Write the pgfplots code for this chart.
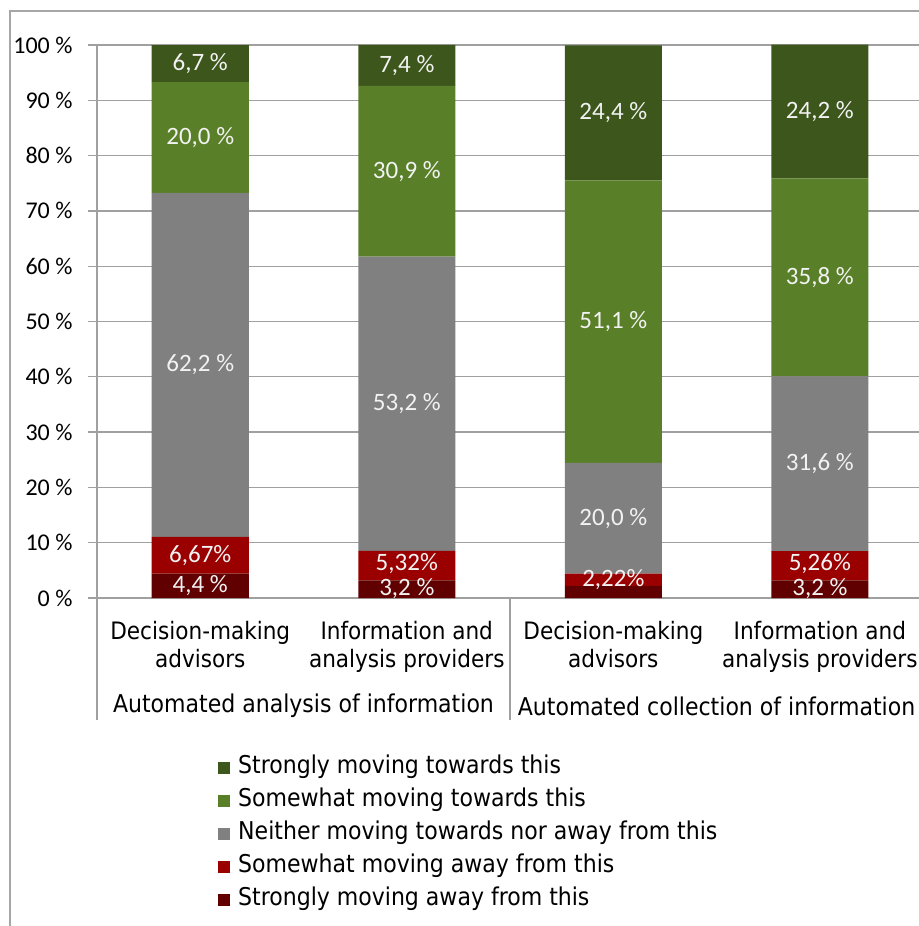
\documentclass[border=0pt]{standalone}
\usepackage{pgfplots}
\pgfplotsset{compat=1.18}
\usepackage{fontspec}
\newfontfamily\labelfont{DejaVu Sans Condensed}
\newfontfamily\numfont{Carlito}

\definecolor{strongTo}{HTML}{3D561B}
\definecolor{someTo}{HTML}{598028}
\definecolor{neither}{HTML}{808080}
\definecolor{someAway}{HTML}{9B0000}
\definecolor{strongAway}{HTML}{600000}
\definecolor{gridcol}{HTML}{A0A0A0}
\definecolor{framecol}{HTML}{A6A6A6}

% raise a value label by a given amount (kept unexpanded inside point meta)
\protected\def\up#1#2{\raisebox{#1}{#2}}

\begin{document}
\begin{tikzpicture}[x=1bp,y=1bp]
\useasboundingbox (-97,-328) rectangle (822,598);
% chart frame
\draw[framecol, line width=1.5bp] (-87,-340) -- (-87,587) -- (840,587);
\begin{axis}[
  at={(0,0)}, anchor=south west,
  scale only axis, width=822bp, height=553bp,
  xmin=0, xmax=3.98, ymin=0, ymax=100,
  clip=false,
  ybar stacked, bar width=0.47,
  axis lines*=left,
  axis line style={-, gridcol, line width=1.3bp},
  ymajorgrids, grid style={gridcol, line width=1.3bp},
  ytick={0,10,...,100},
  yticklabels={0 \%,10 \%,20 \%,30 \%,40 \%,50 \%,60 \%,70 \%,80 \%,90 \%,100 \%},
  ytick style={gridcol, line width=1.3bp},
  major tick length=9bp, tick align=outside,
  yticklabel style={font=\numfont\fontsize{24bp}{29bp}\selectfont, text=black, xshift=-12bp},
  xtick={0.5,1.5,2.5,3.5},
  xtick style={draw=none},
  xticklabels={Decision-making\\advisors, Information and\\analysis providers,
               Decision-making\\advisors, Information and\\analysis providers},
  xticklabel style={align=center, font=\labelfont\fontsize{24bp}{28bp}\selectfont,
     text=black, yshift=-11bp},
  point meta=explicit symbolic,
  nodes near coords,
  every node near coord/.append style={anchor=center,
     font=\numfont\fontsize{25bp}{30bp}\selectfont, text=white!95!black},
  reverse legend,
  legend cell align=left,
  legend style={at={(0.1472,-0.288)}, anchor=north west, draw=none, fill=none,
     inner sep=0pt, row sep=12bp,
     font=\labelfont\fontsize{24.5bp}{28bp}\selectfont,
     nodes={inner sep=0pt, text height=16bp, text depth=5bp},
     /tikz/every odd column/.append style={column sep=8bp}},
  legend image code/.code={\fill[#1] (0bp,-6bp) rectangle (12bp,6bp);},
]
\addplot[fill=strongAway, draw=none] coordinates {
  (0.5,4.4) [\up{-2bp}{4,4 \%}] (1.5,3.2) [\up{5bp}{3,2 \%}]
  (2.5,2.2) [] (3.5,3.2) [\up{4bp}{3,2 \%}]};
\addlegendentry{Strongly moving away from this}
\addplot[fill=someAway, draw=none] coordinates {
  (0.5,6.67) [\up{3bp}{6,67\%}] (1.5,5.32) [\up{7bp}{5,32\%}]
  (2.5,2.22) [\up{-3bp}{2,22\%}] (3.5,5.26) [\up{7bp}{5,26\%}]};
\addlegendentry{Somewhat moving away from this}
\addplot[fill=neither, draw=none] coordinates {
  (0.5,62.2) [62,2 \%] (1.5,53.2) [53,2 \%] (2.5,20.0) [20,0 \%] (3.5,31.6) [31,6 \%]};
\addlegendentry{Neither moving towards nor away from this}
\addplot[fill=someTo, draw=none] coordinates {
  (0.5,20.0) [20,0 \%] (1.5,30.9) [30,9 \%] (2.5,51.1) [51,1 \%] (3.5,35.8) [35,8 \%]};
\addlegendentry{Somewhat moving towards this}
\addplot[fill=strongTo, draw=none] coordinates {
  (0.5,6.7) [6,7 \%] (1.5,7.4) [7,4 \%] (2.5,24.4) [24,4 \%] (3.5,24.2) [24,2 \%]};
\addlegendentry{Strongly moving towards this}

% group separators below the axis
\draw[gridcol, line width=1.3bp] (axis cs:0,0) -- ++(0,-122bp);
\draw[gridcol, line width=1.3bp] (axis cs:2,0) -- ++(0,-122bp);
\draw[gridcol, line width=1.3bp] (axis cs:4,0) -- ++(0,-122bp);
% group labels
\node[font=\labelfont\fontsize{24.5bp}{28bp}\selectfont, yshift=-108bp] at (axis cs:1,0)
  {Automated analysis of information};
\node[font=\labelfont\fontsize{24.5bp}{28bp}\selectfont, yshift=-108bp] at (axis cs:3,0)
  {Automated collection of information};
\end{axis}
\end{tikzpicture}
\end{document}
